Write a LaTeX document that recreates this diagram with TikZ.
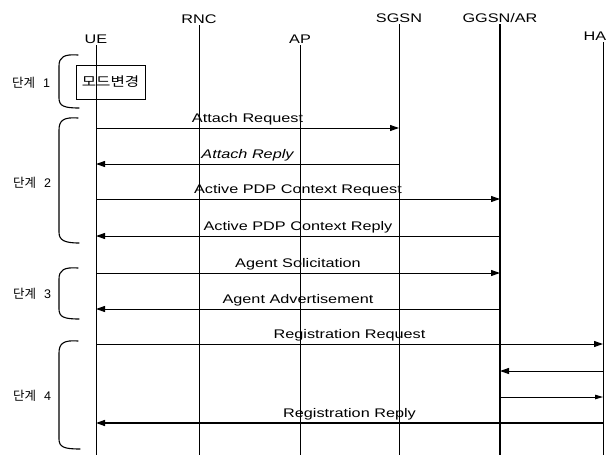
\documentclass[tikz,border=0pt]{standalone}
\usepackage{fontspec}
\setmainfont{Liberation Sans}[FakeStretch=1.3]
\newfontfamily\krfont{Noto Sans CJK KR}
\newfontfamily\krwide{Noto Sans CJK KR}[FakeStretch=1.2]
\usetikzlibrary{arrows.meta}
\begin{document}
\begin{tikzpicture}[x=1pt,y=-1pt,
  hdr/.style={anchor=south,inner sep=1.5pt,font=\fontsize{12.5}{14}\selectfont},
  life/.style={line width=0.9pt},
  msg/.style={line width=1pt,-{Triangle[length=9pt,width=6pt]}},
  lbl/.style={above,inner sep=2.5pt,font=\fontsize{12.5}{14}\selectfont},
  stagelbl/.style={font=\krfont\fontsize{12.5}{14}\selectfont,inner sep=0pt},
  brace/.style={line width=1.1pt,line cap=round}]
\useasboundingbox (0,0) rectangle (608,458);
% lifeline heads
\node[hdr] (UE) at (96,45) {UE};
\node[hdr] (RNC) at (199,25) {RNC};
\node[hdr] (AP) at (300,45) {AP};
\node[hdr] (SGSN) at (399,24) {SGSN};
\node[hdr] (GGSN) at (500,24) {GGSN/AR};
\node[hdr,anchor=south east] (HA) at (608,42) {HA};
\coordinate (HAt) at (603,42);
\coordinate (UEe) at (96,455);
\coordinate (RNCe) at (199,455);
\coordinate (APe) at (300,455);
\coordinate (SGSNe) at (399,455);
\coordinate (GGSNe) at (500,455);
\coordinate (HAe) at (603,455);
\draw[life] (UE.south) -- (UEe);
\draw[life] (RNC.south) -- (RNCe);
\draw[life] (AP.south) -- (APe);
\draw[life] (SGSN.south) -- (SGSNe);
\draw[line width=1.4pt] (GGSN.south) -- (GGSNe);
\draw[life] (HAt) -- (HAe);
% mode change box
\node[draw,line width=0.9pt,minimum width=69pt,minimum height=34pt,inner sep=0pt,
  font=\krwide\fontsize{13}{15}\selectfont] (mode) at (110.5,82) {모드변경};
% stage braces
\draw[brace] (78,55) .. controls (64,54) and (59,57) .. (59,66) -- (59,98) .. controls (59,106) and (64,108) .. (79,108);
\draw[brace] (78,118) .. controls (64,117) and (59,120) .. (59,130) -- (59,232) .. controls (59,240) and (64,243) .. (79,243);
\draw[brace] (78,268) .. controls (64,267) and (59,270) .. (59,279) -- (59,309) .. controls (59,317) and (64,319) .. (79,319);
\draw[brace] (78,341) .. controls (64,340) and (59,343) .. (59,353) -- (59,439) .. controls (59,447) and (64,449) .. (80,449);
\node[stagelbl] (s1) at (31,83) {단계\hspace{8pt}{\fontspec{Liberation Sans}1}};
\node[stagelbl] (s2) at (32,183) {단계\hspace{8pt}{\fontspec{Liberation Sans}2}};
\node[stagelbl] (s3) at (32,294) {단계\hspace{8pt}{\fontspec{Liberation Sans}3}};
\node[stagelbl] (s4) at (32,396) {단계\hspace{8pt}{\fontspec{Liberation Sans}4}};
% message endpoints
\coordinate (a1) at (96,128);  \coordinate (b1) at (399,128);
\coordinate (a2) at (399,164); \coordinate (b2) at (96,164);
\coordinate (a3) at (96,199);  \coordinate (b3) at (500,199);
\coordinate (a4) at (500,236); \coordinate (b4) at (96,236);
\coordinate (a5) at (96,273);  \coordinate (b5) at (500,273);
\coordinate (a6) at (500,309); \coordinate (b6) at (96,309);
\coordinate (a7) at (96,344);  \coordinate (b7) at (603,344);
\coordinate (a8) at (603,371); \coordinate (b8) at (500,371);
\coordinate (a9) at (500,397); \coordinate (b9) at (603,397);
\coordinate (a10) at (603,423); \coordinate (b10) at (96,423);
% messages
\draw[msg] (a1) -- node[lbl] (t1) {Attach Request} (b1);
\draw[msg] (a2) -- node[lbl] (t2) {\itshape Attach Reply} (b2);
\draw[msg] (a3) -- node[lbl] (t3) {Active PDP Context Request} (b3);
\draw[msg] (a4) -- node[lbl] (t4) {Active PDP Context Reply} (b4);
\draw[msg] (a5) -- node[lbl] (t5) {Agent Solicitation} (b5);
\draw[msg] (a6) -- node[lbl] (t6) {Agent Advertisement} (b6);
\draw[msg] (a7) -- node[lbl] (t7) {Registration Request} (b7);
\draw[msg] (a8) -- (b8);
\draw[msg,-{Triangle[length=8pt,width=4.5pt]}] (a9) -- (b9);
\draw[msg,line width=1.4pt] (a10) -- node[lbl] (t10) {Registration Reply} (b10);
\end{tikzpicture}
\end{document}
